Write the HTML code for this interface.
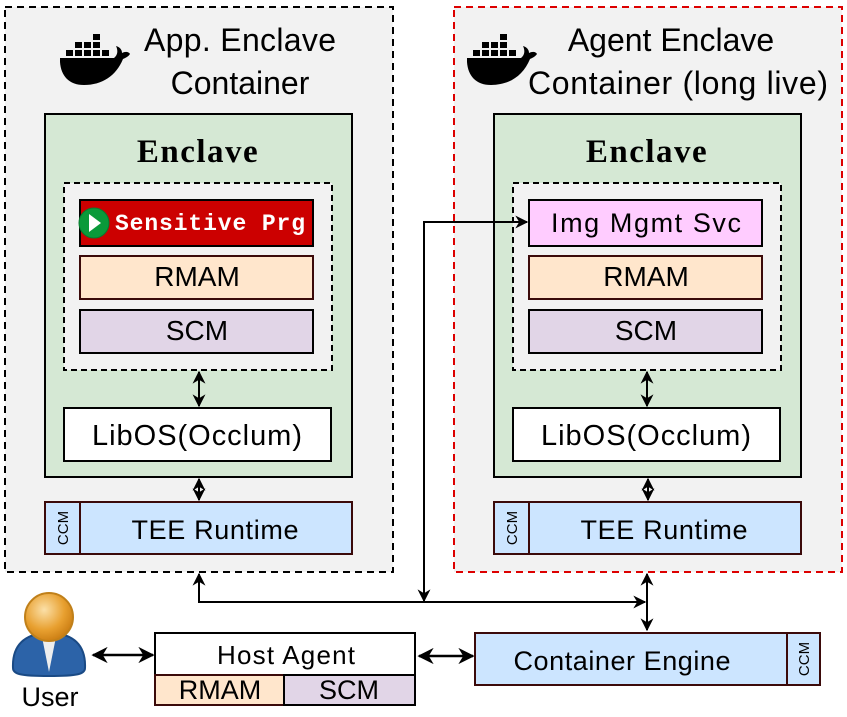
<!DOCTYPE html>
<html><head><meta charset="utf-8"><style>
body{margin:0;background:#fff}
svg text{font-family:"Liberation Sans",sans-serif}
</style></head><body>
<svg width="847" height="712" viewBox="0 0 847 712" xmlns="http://www.w3.org/2000/svg">
<defs>
<marker id="a" viewBox="0 0 10 10" refX="9" refY="5" markerWidth="6.5" markerHeight="6.5" orient="auto-start-reverse"><path d="M0,0 L10,5 L0,10 L3,5 z" fill="#000"/></marker>
<radialGradient id="hg" cx="0.4" cy="0.35" r="0.7"><stop offset="0" stop-color="#fbe0a8"/><stop offset="0.6" stop-color="#e8a030"/><stop offset="1" stop-color="#c87a10"/></radialGradient>
</defs>
<rect x="5" y="7" width="388" height="565" fill="#f2f2f2" stroke="#000" stroke-width="2" stroke-dasharray="7,5"/>
<rect x="454" y="7" width="388" height="565" fill="#f2f2f2" stroke="#d00" stroke-width="2" stroke-dasharray="7,5"/>
<g id="dk" fill="#000">
<path d="M60,58 L114,58 C118,55 118,50 116,46 C120,47 122,50 122,53 C126,51 129,52 130,54 C128,57 125,58 123,59 C116,76 102,85 84,85 C69,85 61,76 60,62 z"/>
<rect x="66" y="50" width="7" height="6"/><rect x="75" y="50" width="7" height="6"/><rect x="84" y="50" width="7" height="6"/><rect x="93" y="50" width="7" height="6"/><rect x="102" y="50" width="7" height="6"/>
<rect x="75" y="42" width="7" height="6"/><rect x="84" y="42" width="7" height="6"/><rect x="93" y="42" width="7" height="6"/><rect x="93" y="34" width="7" height="6"/>
</g>
<use href="#dk" x="407" y="0"/>
<text x="240" y="51" font-size="32" text-anchor="middle" textLength="192">App. Enclave</text>
<text x="240" y="94" font-size="32" text-anchor="middle">Container</text>
<text x="671" y="51" font-size="32" text-anchor="middle">Agent Enclave</text>
<text x="678" y="94" font-size="32" text-anchor="middle" textLength="300">Container (long live)</text>
<g>
<rect x="45" y="114" width="307" height="363" fill="#d5e8d4" stroke="#000" stroke-width="2"/>
<text x="198" y="162" font-size="33" font-weight="bold" text-anchor="middle" letter-spacing="1.5" style="font-family:'Liberation Serif',serif">Enclave</text>
<rect x="64" y="183" width="268" height="187" fill="#f2f2f2" stroke="#000" stroke-width="2" stroke-dasharray="6,4"/>
<rect x="80" y="200" width="233" height="46" fill="#cc0000" stroke="#000" stroke-width="2"/>
<text x="210" y="230" font-size="23" font-weight="bold" fill="#fff" text-anchor="middle" textLength="190" style="font-family:'Liberation Mono',monospace">Sensitive Prg</text>
<circle cx="94" cy="223" r="15" fill="#0a9a3a" stroke="#087a2e" stroke-width="1"/>
<path d="M89,214 L101,223 L89,232 z" fill="#fff"/>
<rect x="80" y="256" width="233" height="43" fill="#ffe6cc" stroke="#3b0a0a" stroke-width="2"/>
<text x="197" y="286" font-size="28" text-anchor="middle">RMAM</text>
<rect x="80" y="310" width="233" height="43" fill="#e1d5e7" stroke="#000" stroke-width="2"/>
<text x="197" y="340" font-size="28" text-anchor="middle">SCM</text>
<rect x="64" y="408" width="267" height="53" fill="#fff" stroke="#000" stroke-width="2"/>
<text x="197" y="445" font-size="29" text-anchor="middle" textLength="210">LibOS(Occlum)</text>
<rect x="45" y="502" width="307" height="52" fill="#cce5ff" stroke="#3b0a0a" stroke-width="2"/>
<line x1="80" y1="502" x2="80" y2="554" stroke="#3b0a0a" stroke-width="2"/>
<text x="215" y="539" font-size="27" text-anchor="middle" textLength="167">TEE Runtime</text>
<text transform="translate(68,528) rotate(-90)" font-size="15" text-anchor="middle">CCM</text>
<line x1="199" y1="372" x2="199" y2="406" stroke="#000" stroke-width="2" marker-start="url(#a)" marker-end="url(#a)"/>
<line x1="199" y1="479" x2="199" y2="500" stroke="#000" stroke-width="2" marker-start="url(#a)" marker-end="url(#a)"/>
</g>
<g transform="translate(449,0)">
<rect x="45" y="114" width="307" height="363" fill="#d5e8d4" stroke="#000" stroke-width="2"/>
<text x="198" y="162" font-size="33" font-weight="bold" text-anchor="middle" letter-spacing="1.5" style="font-family:'Liberation Serif',serif">Enclave</text>
<rect x="64" y="183" width="268" height="187" fill="#f2f2f2" stroke="#000" stroke-width="2" stroke-dasharray="6,4"/>
<rect x="80" y="200" width="233" height="46" fill="#ffccff" stroke="#000" stroke-width="2"/>
<text x="197" y="232" font-size="27" text-anchor="middle" textLength="190">Img Mgmt Svc</text>
<rect x="80" y="256" width="233" height="43" fill="#ffe6cc" stroke="#3b0a0a" stroke-width="2"/>
<text x="197" y="286" font-size="28" text-anchor="middle">RMAM</text>
<rect x="80" y="310" width="233" height="43" fill="#e1d5e7" stroke="#000" stroke-width="2"/>
<text x="197" y="340" font-size="28" text-anchor="middle">SCM</text>
<rect x="64" y="408" width="267" height="53" fill="#fff" stroke="#000" stroke-width="2"/>
<text x="197" y="445" font-size="29" text-anchor="middle" textLength="210">LibOS(Occlum)</text>
<rect x="45" y="502" width="307" height="52" fill="#cce5ff" stroke="#3b0a0a" stroke-width="2"/>
<line x1="80" y1="502" x2="80" y2="554" stroke="#3b0a0a" stroke-width="2"/>
<text x="215" y="539" font-size="27" text-anchor="middle" textLength="167">TEE Runtime</text>
<text transform="translate(68,528) rotate(-90)" font-size="15" text-anchor="middle">CCM</text>
<line x1="198" y1="372" x2="198" y2="406" stroke="#000" stroke-width="2" marker-start="url(#a)" marker-end="url(#a)"/>
<line x1="199" y1="479" x2="199" y2="500" stroke="#000" stroke-width="2" marker-start="url(#a)" marker-end="url(#a)"/>
</g>
<polyline points="199,574 199,602 645,602" fill="none" stroke="#000" stroke-width="2" marker-start="url(#a)" marker-end="url(#a)"/>
<polyline points="527,222 424,222 424,601" fill="none" stroke="#000" stroke-width="2" marker-start="url(#a)" marker-end="url(#a)"/>
<line x1="647" y1="574" x2="647" y2="630" stroke="#000" stroke-width="2" marker-start="url(#a)" marker-end="url(#a)"/>
<line x1="93" y1="655" x2="153" y2="655" stroke="#000" stroke-width="2.5" marker-start="url(#a)" marker-end="url(#a)"/>
<line x1="419" y1="656" x2="473" y2="656" stroke="#000" stroke-width="2.5" marker-start="url(#a)" marker-end="url(#a)"/>
<rect x="155" y="633" width="260" height="42" fill="#fff" stroke="#000" stroke-width="2"/>
<text x="286" y="664" font-size="26" text-anchor="middle" textLength="138">Host Agent</text>
<rect x="155" y="675" width="129" height="30" fill="#ffe6cc" stroke="#3b0a0a" stroke-width="2"/>
<rect x="284" y="675" width="131" height="30" fill="#e1d5e7" stroke="#000" stroke-width="2"/>
<text x="220" y="699" font-size="27" text-anchor="middle">RMAM</text>
<text x="349" y="699" font-size="27" text-anchor="middle">SCM</text>
<rect x="475" y="633" width="345" height="52" fill="#cce5ff" stroke="#3b0a0a" stroke-width="2"/>
<line x1="787" y1="633" x2="787" y2="685" stroke="#3b0a0a" stroke-width="2"/>
<text x="622" y="670" font-size="27" text-anchor="middle" textLength="217">Container Engine</text>
<text transform="translate(809,659) rotate(-90)" font-size="15" text-anchor="middle">CCM</text>
<path d="M13,668 C12,645 25,633 49,633 C73,633 86,645 85,668 C85,674 78,676 49,676 C20,676 13,674 13,668 z" fill="#2c63a8" stroke="#1a4a85" stroke-width="2"/>
<path d="M42,637 L49,672 L56,637 z" fill="#eee"/>
<circle cx="49" cy="617" r="24" fill="url(#hg)" stroke="#c0801a" stroke-width="2"/>
<text x="50" y="706" font-size="27" text-anchor="middle">User</text>
</svg>
</body></html>
